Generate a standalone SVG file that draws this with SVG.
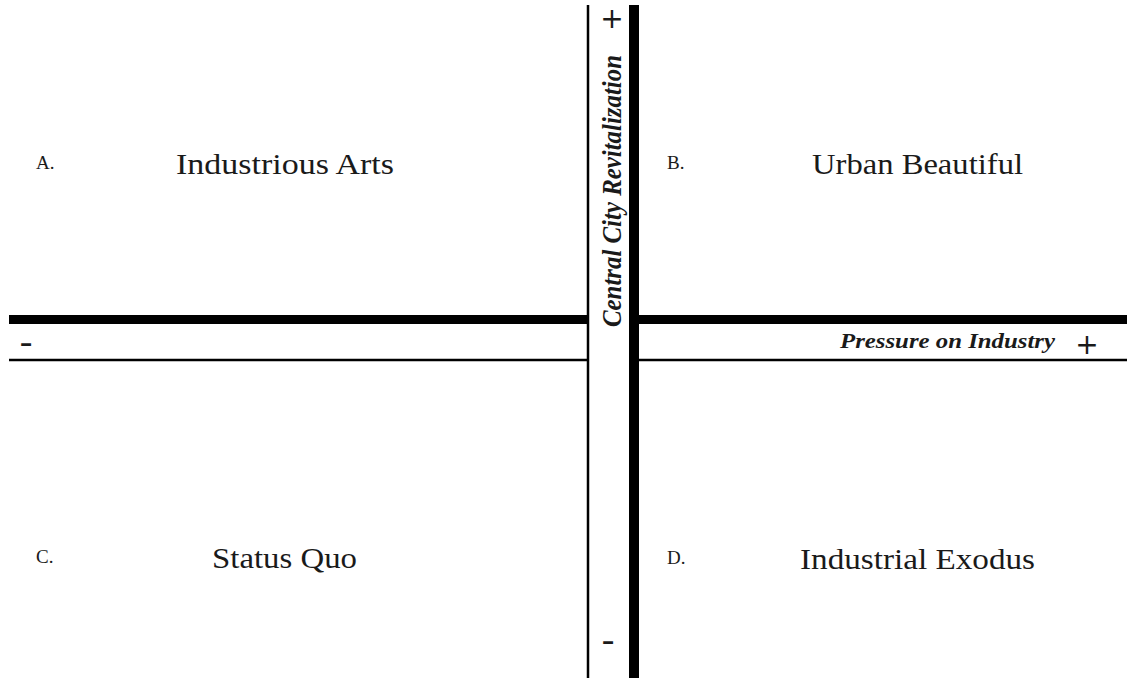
<svg xmlns="http://www.w3.org/2000/svg" width="1127" height="678" viewBox="0 0 1127 678">
  <style>
    .thick { stroke: #000; stroke-width: 9; fill: none; }
    .thin { stroke: #000; stroke-width: 2.5; fill: none; }
    .title { font-family: "Liberation Serif", "DejaVu Serif", serif; font-size: 29px; fill: #1a1a1a; }
    .letter { font-family: "Liberation Serif", "DejaVu Serif", serif; font-size: 19px; fill: #1a1a1a; }
    .axis { font-family: "Liberation Serif", "DejaVu Serif", serif; font-weight: bold; font-style: italic; fill: #1a1a1a; }
    .sign { font-family: "Liberation Serif", "DejaVu Serif", serif; font-size: 38px; fill: #1a1a1a; text-anchor: middle; }
    .plus { font-family: "DejaVu Sans", "Liberation Sans", sans-serif; font-size: 28px; fill: #1a1a1a; text-anchor: middle; }
  </style>

  <rect width="1127" height="678" fill="#fff"/>

  <!-- axes -->
  <g id="connectors">
    <line class="thick" x1="9" y1="319.5" x2="588" y2="319.5"/>
    <line class="thick" x1="638" y1="319.5" x2="1127" y2="319.5"/>
    <line class="thin" x1="9" y1="360" x2="588" y2="360"/>
    <line class="thin" x1="638" y1="360" x2="1127" y2="360"/>
    <line class="thin" x1="588" y1="5" x2="588" y2="678"/>
    <line x1="634" y1="5" x2="634" y2="678" stroke="#000" stroke-width="10"/>
  </g>

  <!-- axis labels -->
  <g id="axis-vertical">
    <text class="axis" font-size="27" transform="translate(621,327) rotate(-90)" textLength="272" lengthAdjust="spacingAndGlyphs">Central City Revitalization</text>
    <text class="plus" x="612" y="28">+</text>
    <text class="sign" x="608" y="652">-</text>
  </g>
  <g id="axis-horizontal">
    <text class="axis" font-size="21" x="840" y="348" textLength="215" lengthAdjust="spacingAndGlyphs">Pressure on Industry</text>
    <text class="plus" x="1087" y="354">+</text>
    <text class="sign" x="26" y="354">-</text>
  </g>

  <!-- quadrants -->
  <g id="quadrant-a">
    <text class="letter" x="36" y="169">A.</text>
    <text class="title" x="176" y="174" textLength="218" lengthAdjust="spacingAndGlyphs">Industrious Arts</text>
  </g>
  <g id="quadrant-b">
    <text class="letter" x="667" y="169">B.</text>
    <text class="title" x="812" y="174" textLength="211" lengthAdjust="spacingAndGlyphs">Urban Beautiful</text>
  </g>
  <g id="quadrant-c">
    <text class="letter" x="36" y="563">C.</text>
    <text class="title" x="212" y="568" textLength="145" lengthAdjust="spacingAndGlyphs">Status Quo</text>
  </g>
  <g id="quadrant-d">
    <text class="letter" x="667" y="564">D.</text>
    <text class="title" x="800" y="569" textLength="235" lengthAdjust="spacingAndGlyphs">Industrial Exodus</text>
  </g>
</svg>
